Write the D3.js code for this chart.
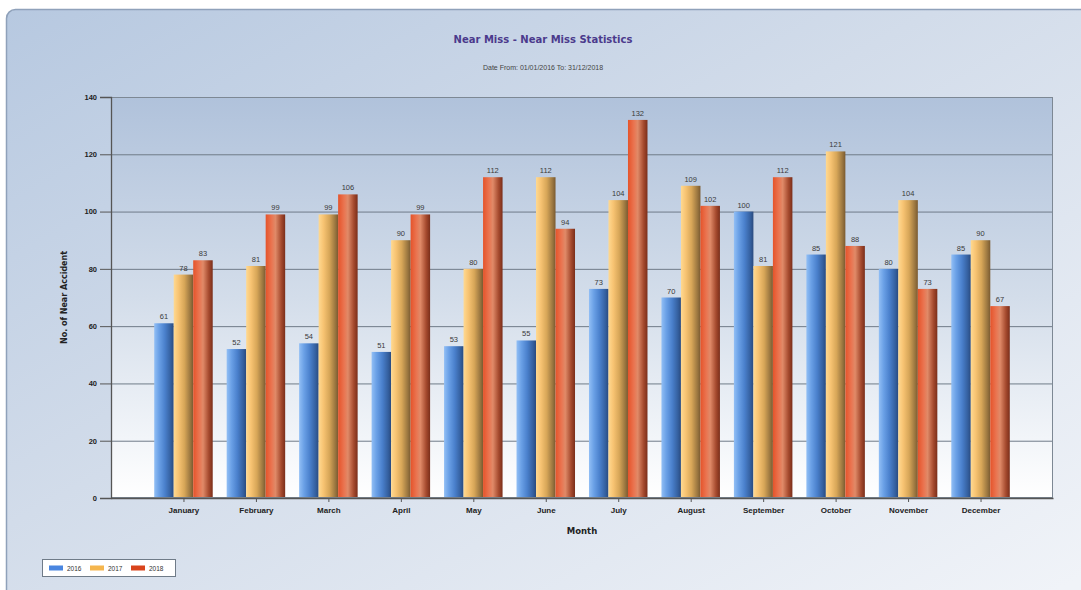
<!DOCTYPE html>
<html>
<head>
<meta charset="utf-8">
<script src="https://cdn.jsdelivr.net/npm/d3@7"></script>
<style>
  html, body { margin: 0; padding: 0; background: #ffffff; }
  svg { display: block; }
</style>
</head>
<body>
<svg id="chart" width="1081" height="590"></svg>
<script>
// Monthly near-miss counts per year
const months = ["January","February","March","April","May","June","July","August","September","October","November","December"];
const years = ["2016","2017","2018"];
const values2016 = [61,52,54,51,53,55,73,70,100,85,80,85];
const values2017 = [78,81,99,90,80,112,104,109,81,121,104,90];
const values2018 = [83,99,106,99,112,94,132,102,112,88,73,67];
const yTicks = [0,20,40,60,80,100,120,140];

const seriesValues = [values2016, values2017, values2018];

const svg = d3.select("#chart");
const W = 1081, H = 590;
const plot = { left: 111, right: 1053, top: 97, bottom: 498 };

const defs = svg.append("defs");

// panel background: darker blue at top-left fading towards bottom-right
const pg = defs.append("linearGradient").attr("id", "panelGrad")
  .attr("gradientUnits", "userSpaceOnUse")
  .attr("x1", 0).attr("y1", 0).attr("x2", 500).attr("y2", 900);
pg.append("stop").attr("offset", "0").attr("stop-color", "#b6c8e0");
pg.append("stop").attr("offset", "0.45").attr("stop-color", "#d2dcea");
pg.append("stop").attr("offset", "1").attr("stop-color", "#f0f3f8");

// plot area background
const ag = defs.append("linearGradient").attr("id", "areaGrad")
  .attr("x1", "0").attr("y1", "0").attr("x2", "0").attr("y2", "1");
ag.append("stop").attr("offset", "0").attr("stop-color", "#b0c2db");
ag.append("stop").attr("offset", "0.5").attr("stop-color", "#d3ddea");
ag.append("stop").attr("offset", "1").attr("stop-color", "#ffffff");

// cylindrical bar shading per series
const barStops = [
  [["0","#92bff5"],["0.25","#6aa0e6"],["0.55","#4a80cc"],["0.85","#345f9e"],["1","#2a4a7e"]],
  [["0","#ffd991"],["0.25","#f7c372"],["0.55","#d7a658"],["0.85","#9a7640"],["1","#7a5a30"]],
  [["0","#e5532a"],["0.3","#ea7450"],["0.5","#e08a68"],["0.8","#a54a2e"],["1","#7a2e1a"]]
];
const legendColors = ["#4a86e0", "#f5b64e", "#d9441c"];
barStops.forEach((stops, i) => {
  const g = defs.append("linearGradient").attr("id", "bar" + i)
    .attr("x1", "0").attr("y1", "0").attr("x2", "1").attr("y2", "0");
  stops.forEach(s => g.append("stop").attr("offset", s[0]).attr("stop-color", s[1]));
});

// outer panel
svg.append("rect")
  .attr("x", 6.5).attr("y", 9.5).attr("width", W + 20).attr("height", H + 20)
  .attr("rx", 9).attr("ry", 9)
  .attr("fill", "url(#panelGrad)")
  .attr("stroke", "#8fa1ba").attr("stroke-width", 1.5);

// title
svg.append("text")
  .attr("x", 543).attr("y", 43)
  .attr("text-anchor", "middle")
  .attr("font-family", "DejaVu Sans, sans-serif")
  .attr("font-size", 10).attr("font-weight", "bold")
  .attr("fill", "#4b3a8c")
  .text("Near Miss - Near Miss Statistics");

svg.append("text")
  .attr("x", 543).attr("y", 70)
  .attr("text-anchor", "middle")
  .attr("font-family", "Liberation Sans, Arial, sans-serif")
  .attr("font-size", 7)
  .attr("fill", "#444")
  .text("Date From: 01/01/2016  To: 31/12/2018");

// scales
const x = d3.scalePoint().domain(months).range([plot.left, plot.right]).padding(1);
const y = d3.scaleLinear().domain([0, 140]).range([plot.bottom, plot.top]);
const barW = 19.5;
const xs = d3.scaleBand().domain(years).range([-barW * 1.5, barW * 1.5]);

// plot area
svg.append("rect")
  .attr("x", plot.left).attr("y", plot.top)
  .attr("width", plot.right - plot.left).attr("height", plot.bottom - plot.top)
  .attr("fill", "url(#areaGrad)");

// gridlines
svg.append("g").selectAll("line")
  .data(yTicks.filter(t => t > 0))
  .join("line")
  .attr("x1", plot.left).attr("x2", plot.right)
  .attr("y1", d => y(d) + 0.5).attr("y2", d => y(d) + 0.5)
  .attr("stroke", "#6f7b88").attr("stroke-width", 1);

// bars
const groups = svg.append("g").selectAll("g")
  .data(years)
  .join("g")
  .attr("fill", (d, i) => `url(#bar${i})`);

groups.each(function (yr, si) {
  d3.select(this).selectAll("rect")
    .data(seriesValues[si])
    .join("rect")
    .attr("x", (d, mi) => x(months[mi]) + xs(yr))
    .attr("width", xs.bandwidth())
    .attr("y", d => y(d))
    .attr("height", d => y(0) - y(d));
});

// value labels
groups.each(function (yr, si) {
  d3.select(this).selectAll("text")
    .data(seriesValues[si])
    .join("text")
    .attr("x", (d, mi) => x(months[mi]) + xs(yr) + xs.bandwidth() / 2)
    .attr("y", d => y(d) - 4)
    .attr("text-anchor", "middle")
    .attr("font-family", "Liberation Sans, Arial, sans-serif")
    .attr("font-size", 7.5)
    .attr("fill", "#3a3a3a")
    .text(d => d);
});

// plot border
svg.append("rect")
  .attr("x", plot.left + 0.5).attr("y", plot.top + 0.5)
  .attr("width", plot.right - plot.left - 1).attr("height", plot.bottom - plot.top - 1)
  .attr("fill", "none").attr("stroke", "#7d8894").attr("stroke-width", 1);

// y axis
const yAxis = svg.append("g")
  .attr("transform", `translate(${plot.left},0)`)
  .call(d3.axisLeft(y).tickValues(yTicks).tickSize(11).tickPadding(3).tickFormat(d3.format("d")));
yAxis.select(".domain").attr("stroke", "#555").attr("stroke-width", 1.3);
yAxis.selectAll(".tick line").attr("stroke", "#555");
yAxis.selectAll("text")
  .attr("font-family", "Liberation Sans, Arial, sans-serif")
  .attr("font-size", 7.5).attr("font-weight", "bold").attr("fill", "#222");

// x axis
const xAxis = svg.append("g")
  .attr("transform", `translate(0,${plot.bottom})`)
  .call(d3.axisBottom(x).tickSize(4).tickPadding(5).tickSizeOuter(0));
xAxis.select(".domain").attr("stroke", "#555").attr("stroke-width", 1.3);
xAxis.selectAll(".tick line").attr("stroke", "#555");
xAxis.selectAll("text")
  .attr("font-family", "Liberation Sans, Arial, sans-serif")
  .attr("font-size", 8).attr("font-weight", "bold").attr("fill", "#222");

// axis titles
svg.append("text")
  .attr("x", (plot.left + plot.right) / 2).attr("y", 534)
  .attr("text-anchor", "middle")
  .attr("font-family", "DejaVu Sans, sans-serif")
  .attr("font-size", 8.5).attr("font-weight", "bold").attr("fill", "#222")
  .text("Month");

svg.append("text")
  .attr("transform", `translate(67,${(plot.top + plot.bottom) / 2}) rotate(-90)`)
  .attr("text-anchor", "middle")
  .attr("font-family", "DejaVu Sans, sans-serif")
  .attr("font-size", 8).attr("font-weight", "bold").attr("fill", "#222")
  .text("No. of Near Accident");

// legend
const legend = svg.append("g").attr("transform", "translate(42,559)");
legend.append("rect")
  .attr("x", 0.5).attr("y", 0.5).attr("width", 133).attr("height", 17)
  .attr("fill", "#ffffff").attr("stroke", "#6f7b88");
const li = legend.selectAll("g").data(years).join("g")
  .attr("transform", (d, i) => `translate(${7 + i * 41},0)`);
li.append("rect")
  .attr("x", 0).attr("y", 6.5).attr("width", 14).attr("height", 5)
  .attr("fill", (d, i) => legendColors[i]);
li.append("text")
  .attr("x", 18).attr("y", 11.5)
  .attr("font-family", "Liberation Sans, Arial, sans-serif")
  .attr("font-size", 6.5).attr("fill", "#333")
  .text(d => d);
</script>
</body>
</html>
